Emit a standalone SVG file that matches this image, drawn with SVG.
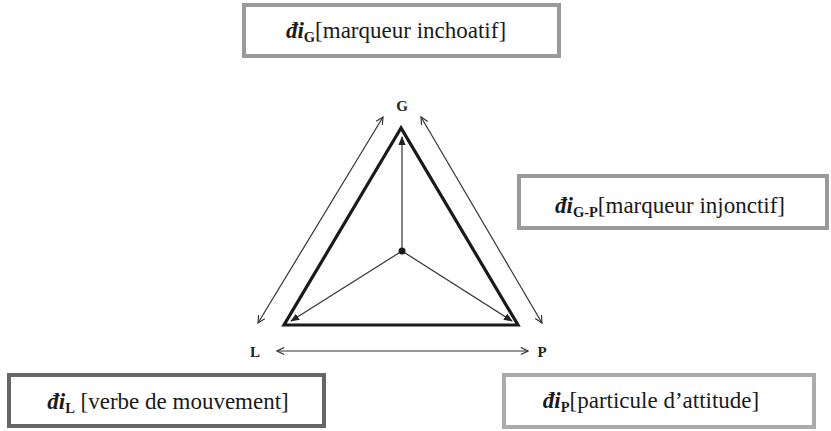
<svg xmlns="http://www.w3.org/2000/svg" width="831" height="431" viewBox="0 0 831 431">
<style>
.t{font-family:"Liberation Serif","Times New Roman",Tinos,"DejaVu Serif",serif;font-size:23px;fill:#1a1a1a}
.r{font-family:"Liberation Serif","Times New Roman",Tinos,"DejaVu Serif",serif;font-weight:400;font-style:normal}
.di{font-weight:bold;font-style:italic}
.sub{font-weight:bold;font-size:14.5px}
.lbl{font-family:"Liberation Serif","Times New Roman",serif;font-size:15px;font-weight:bold;fill:#222;text-anchor:middle}
.box{fill:#fff;stroke-width:4}
.open{fill:none;stroke:#333;stroke-width:1.2}
</style>
<defs>
<marker id="oa" viewBox="0 0 10 10" refX="9" refY="5" markerWidth="9" markerHeight="9" markerUnits="userSpaceOnUse" orient="auto-start-reverse">
<path d="M1,1 L9,5 L1,9" fill="none" stroke="#333" stroke-width="1.3"/>
</marker>
<marker id="fa" viewBox="0 0 10 10" refX="9" refY="5" markerWidth="9" markerHeight="9" markerUnits="userSpaceOnUse" orient="auto">
<path d="M0,1 L10,5 L0,9 Z" fill="#222"/>
</marker>
</defs>
<rect width="831" height="431" fill="#fff"/>
<g id="connectors">
<polygon points="401,128 284,325 518,325" fill="none" stroke="#1a1a1a" stroke-width="3.2"/>
<line x1="402" y1="251" x2="402" y2="137" stroke="#333" stroke-width="1.2" marker-end="url(#fa)"/>
<line x1="402" y1="251" x2="291" y2="321" stroke="#333" stroke-width="1.2" marker-end="url(#fa)"/>
<line x1="402" y1="251" x2="512" y2="321" stroke="#333" stroke-width="1.2" marker-end="url(#fa)"/>
<circle cx="402" cy="251" r="3.5" fill="#1a1a1a"/>
<line class="open" x1="258" y1="323" x2="383" y2="117" marker-start="url(#oa)" marker-end="url(#oa)"/>
<line class="open" x1="421" y1="117" x2="542" y2="323" marker-start="url(#oa)" marker-end="url(#oa)"/>
<line class="open" x1="277" y1="351" x2="528" y2="351" marker-start="url(#oa)" marker-end="url(#oa)"/>
</g>
<g id="vertex-G"><text class="lbl" x="402" y="111">G</text></g>
<g id="vertex-L"><text class="lbl" x="255" y="357">L</text></g>
<g id="vertex-P"><text class="lbl" x="542" y="357">P</text></g>
<g id="node-G">
<rect class="box" x="244" y="5" width="315" height="51" stroke="#9a9a9a"/>
<text class="t" x="396" y="38" text-anchor="middle"><tspan class="di">đi</tspan><tspan class="sub" dy="4">G</tspan><tspan class="r" dy="-4">[marqueur inchoatif]</tspan></text>
</g>
<g id="node-GP">
<rect class="box" x="519" y="176" width="308" height="52" stroke="#9a9a9a"/>
<text class="t" x="670" y="213" text-anchor="middle"><tspan class="di">đi</tspan><tspan class="sub" dy="4">G-P</tspan><tspan class="r" dy="-4">[marqueur injonctif]</tspan></text>
</g>
<g id="node-L">
<rect class="box" x="9" y="375" width="315" height="51" stroke="#666"/>
<text class="t" x="168" y="409" text-anchor="middle"><tspan class="di">đi</tspan><tspan class="sub" dy="4">L</tspan><tspan class="r" dy="-4"> [verbe de mouvement]</tspan></text>
</g>
<g id="node-P">
<rect class="box" x="504" y="375" width="310" height="52" stroke="#ababab"/>
<text class="t" x="651" y="408" text-anchor="middle"><tspan class="di">đi</tspan><tspan class="sub" dy="4">P</tspan><tspan class="r" dy="-4">[particule d’attitude]</tspan></text>
</g>
</svg>
